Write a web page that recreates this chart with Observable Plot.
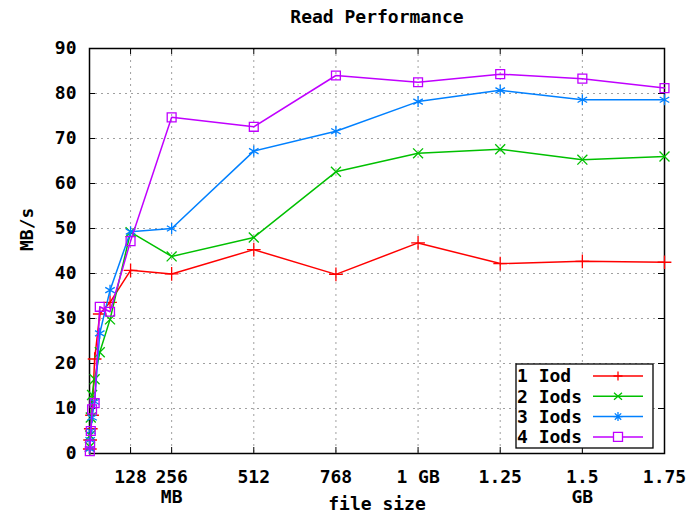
<!DOCTYPE html>
<html><head><meta charset="utf-8">
<script src="https://cdn.jsdelivr.net/npm/d3@7"></script>
<script src="https://cdn.jsdelivr.net/npm/@observablehq/plot@0.6"></script>
<style>
body{margin:0;background:#fff;}
#chart{position:relative;width:700px;height:514px;}
</style></head><body><div id="chart"></div>
<script>
// file sizes in MB
const sizesMB = [1, 2, 4, 8, 16, 32, 64, 128, 256, 512, 768, 1024, 1280, 1536, 1792];
const iod1 = [1.0, 3.0, 5.5, 8.5, 21.0, 31.0, 33.6, 40.7, 39.9, 45.3, 39.8, 46.8, 42.2, 42.7, 42.5];
const iod2 = [1.5, 4.0, 8.0, 13.0, 16.5, 22.5, 29.8, 49.2, 43.8, 48.0, 62.6, 66.7, 67.6, 65.3, 66.0];
const iod3 = [1.0, 3.0, 5.0, 8.0, 11.5, 26.7, 36.3, 49.3, 50.0, 67.2, 71.6, 78.2, 80.7, 78.6, 78.6];
const iod4 = [0.5, 2.0, 5.0, 9.8, 11.2, 32.6, 31.5, 47.2, 74.7, 72.6, 84.0, 82.5, 84.3, 83.3, 81.2];

const seriesNames = ["1 Iod", "2 Iods", "3 Iods", "4 Iods"];
const seriesValues = [iod1, iod2, iod3, iod4];
const seriesColors = ["#ff0000", "#00c000", "#0080ff", "#c000ff"];
const seriesSymbols = ["plus", "times", "asterisk", "square"];

const xTicks = [128, 256, 512, 768, 1024, 1280, 1536, 1792];
const xTickLabels = ["128", "256\nMB", "512", "768", "1 GB", "1.25", "1.5\nGB", "1.75"];
const yTicks = [0, 10, 20, 30, 40, 50, 60, 70, 80, 90];

const titleText = "Read Performance";
const xLabel = "file size";
const yLabel = "MB/s";

const rows = [];
seriesNames.forEach((name, i) => {
  sizesMB.forEach((s, j) => rows.push({series: name, size: s, value: seriesValues[i][j]}));
});

const W = 700, H = 514, ML = 89, MR = 36, MT = 48, MB = 61;
const PW = W - ML - MR, PH = H - MT - MB;
const font = "DejaVu Sans Mono";
const FS = 18;
const grid = {stroke: "#a0a0a0", strokeDasharray: "2,4", strokeWidth: 1};

const symSize = {plus: 4.5, times: 4.6, asterisk: 5.2, square: 5.0};

const marks = [
  Plot.ruleX(xTicks.slice(0, -1), {...grid}),
  Plot.ruleY(yTicks.slice(1, -1), {...grid}),
  // inward tick marks on all four sides
  Plot.ruleX(xTicks, {insetTop: PH - 6, stroke: "black"}),
  Plot.ruleX(xTicks, {insetBottom: PH - 6, stroke: "black"}),
  Plot.ruleY(yTicks, {insetRight: PW - 6, stroke: "black"}),
  Plot.ruleY(yTicks, {insetLeft: PW - 6, stroke: "black"}),
  Plot.frame({stroke: "black", strokeWidth: 1.5}),
  Plot.axisX(xTicks, {tickSize: 0, tickPadding: 15, tickFormat: (d, i) => xTickLabels[i], fontSize: FS, fontWeight: "bold", lineHeight: 1.12, label: null}),
  Plot.axisY(yTicks, {tickSize: 0, tickPadding: 13, fontSize: FS, fontWeight: "bold", label: null}),
];
seriesNames.forEach((name, i) => {
  const data = rows.filter(d => d.series === name);
  marks.push(Plot.line(data, {x: "size", y: "value", stroke: seriesColors[i], strokeWidth: 1.5}));
  marks.push(Plot.dot(data, {x: "size", y: "value", stroke: seriesColors[i], fill: "none", symbol: seriesSymbols[i], r: symSize[seriesSymbols[i]], strokeWidth: 1.3}));
});
marks.push(Plot.text([titleText], {text: d => d, frameAnchor: "top", dy: 17 - MT, lineAnchor: "middle", fontSize: FS, fontWeight: "bold"}));
marks.push(Plot.text([xLabel], {text: d => d, frameAnchor: "bottom", dy: 504 - (H - MB), lineAnchor: "middle", fontSize: FS, fontWeight: "bold"}));
marks.push(Plot.text([yLabel], {text: d => d, frameAnchor: "left", dx: 27 - ML, rotate: -90, lineAnchor: "middle", fontSize: FS, fontWeight: "bold"}));

const chart = Plot.plot({
  width: W, height: H,
  marginLeft: ML, marginRight: MR, marginTop: MT, marginBottom: MB,
  style: {fontFamily: font, background: "white", color: "black"},
  x: {type: "linear", domain: [0, 1792], axis: null},
  y: {domain: [0, 90], axis: null},
  marks
});
document.getElementById("chart").appendChild(chart);

// legend (key box)
const svg = d3.select(chart);
const key = svg.append("g");
const kx = 516, ky = 364, kw = 137, kh = 84, rowH = 20.3, row0 = 376;
key.append("rect").attr("x", kx).attr("y", ky).attr("width", kw).attr("height", kh)
  .attr("fill", "white").attr("stroke", "black").attr("stroke-width", 1.3);
const shapes = {
  plus: "M-4.5,0H4.5M0,-4.5V4.5",
  times: "M-4,-3.5L4,3.5M-4,3.5L4,-3.5",
  asterisk: "M-4.5,0H4.5M0,-4.5V4.5M-3.2,-3.2L3.2,3.2M-3.2,3.2L3.2,-3.2",
  square: "M-4.5,-4.5H4.5V4.5H-4.5Z"
};
seriesNames.forEach((name, i) => {
  const y = row0 + i * rowH;
  key.append("text").attr("x", kx + 1).attr("y", y).attr("dy", "0.35em")
    .attr("text-anchor", "start")
    .attr("font-family", font).attr("font-size", FS).attr("font-weight", "bold").text(name);
  key.append("line").attr("x1", 593).attr("x2", 643).attr("y1", y).attr("y2", y)
    .attr("stroke", seriesColors[i]).attr("stroke-width", 1.5);
  key.append("path").attr("d", shapes[seriesSymbols[i]]).attr("transform", `translate(618,${y})`)
    .attr("fill", "white").attr("stroke", seriesColors[i]).attr("stroke-width", 1.3);
});
</script></body></html>
